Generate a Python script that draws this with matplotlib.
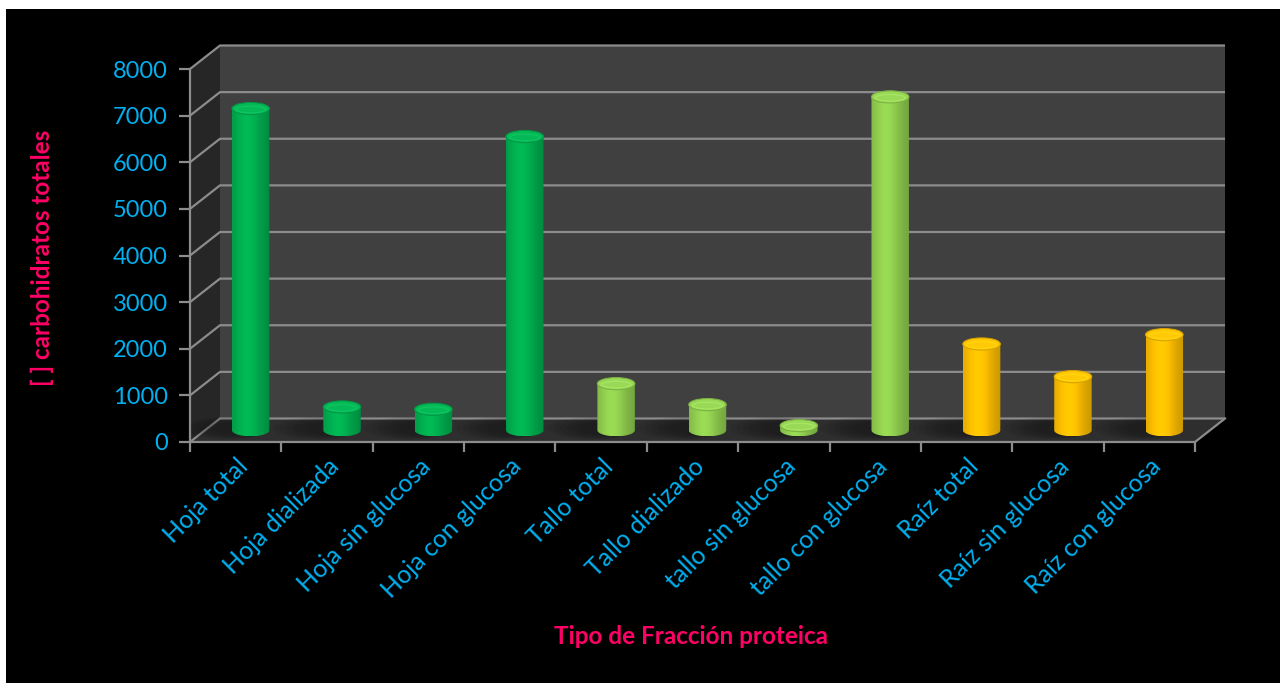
import numpy as np
import matplotlib.pyplot as plt
from matplotlib.patches import Polygon, Rectangle, Ellipse, PathPatch
from matplotlib.path import Path
import matplotlib.colors as mcolors

plt.rcParams['font.family'] = ['Lato', 'DejaVu Sans']

categorias = ['Hoja total', 'Hoja dializada', 'Hoja sin glucosa', 'Hoja con glucosa',
              'Tallo total', 'Tallo dializado', 'tallo sin glucosa', 'tallo con glucosa',
              'Raíz total', 'Raíz sin glucosa', 'Raíz con glucosa']
valores = [6900, 500, 450, 6300, 1000, 550, 100, 7150, 1850, 1150, 2050]
colores = ['#00B050'] * 4 + ['#92D050'] * 4 + ['#FFC000'] * 3
yticks = list(range(0, 8001, 1000))

AZUL = '#00B0F0'
ROSA = '#FF0066'
GRIS = '#8c8c8c'

W, H = 1280, 686
fig = plt.figure(figsize=(W / 100, H / 100), dpi=100, facecolor='white')
fig.add_artist(Rectangle((6 / W, 3 / H), (W - 6) / W, (H - 12) / H,
                         transform=fig.transFigure, fc='black', ec='none', zorder=-10))

ax = fig.add_axes([190 / W, (H - 442) / H, 1005 / W, 373 / H])
ax.patch.set_visible(False)
n = len(categorias)
ymax = yticks[-1]

# profundidad de la caja 3D en unidades de datos
dx = 30 / 1005 * n
dy = 23.5 / 373 * ymax

# paredes y piso
ax.add_patch(Polygon([(0, 0), (0, ymax), (dx, ymax + dy), (dx, dy)],
                     fc='#262626', ec='none', clip_on=False, zorder=1))
ax.add_patch(Rectangle((dx, dy), n, ymax, fc='#404040', ec='none', clip_on=False, zorder=1))
ax.add_patch(Polygon([(0, 0), (n, 0), (n + dx, dy), (dx, dy)],
                     fc='#2e2e2e', ec='none', clip_on=False, zorder=1))

for v in yticks:
    ax.plot([0, dx, n + dx], [v, v + dy, v + dy], color=GRIS, lw=1.6,
            clip_on=False, zorder=2, solid_capstyle='butt')
ax.plot([n, n + dx], [0, dy], color=GRIS, lw=1.6, clip_on=False, zorder=2)

# cilindros
w = 0.41
eh = 260
t = np.linspace(0, 1, 120)
perfil = 0.84 + 0.22 * np.exp(-((t - 0.4) / 0.35) ** 2) - 0.06 * t ** 4

for i, (v, c) in enumerate(zip(valores, colores)):
    base = np.array(mcolors.to_rgb(c))
    xc = i + 0.5 + dx / 2
    y0 = dy / 2
    y1 = v + dy / 2

    # sombra en el piso
    for k in range(6):
        ax.add_patch(Ellipse((xc - 0.12 - 0.03 * k, y0 + 40), w * 1.4 + 0.08 * k, eh * 1.1 + 40 * k,
                             fc='black', ec='none', alpha=0.06, zorder=2))

    th = np.linspace(np.pi, 2 * np.pi, 40)
    verts = [(xc - w / 2, y1)]
    verts += list(zip(xc + w / 2 * np.cos(th), y0 + eh / 2 * np.sin(th)))
    verts += [(xc + w / 2, y1), (xc - w / 2, y1)]
    cuerpo = PathPatch(Path(verts, closed=True), fc='none', ec='none', zorder=3)
    ax.add_patch(cuerpo)

    rgb = np.clip(base[None, :] * perfil[:, None], 0, 1)
    im = ax.imshow(rgb[None, :, :], extent=[xc - w / 2, xc + w / 2, y0 - eh / 2, y1],
                   aspect='auto', interpolation='bilinear', zorder=3)
    im.set_clip_path(cuerpo)

    tapa = np.clip(base * 1.02 + 0.02, 0, 1)
    ax.add_patch(Ellipse((xc, y1), w, eh, fc=tapa, ec=np.clip(base * 0.85, 0, 1),
                         lw=0.8, zorder=4))
    ax.add_patch(Ellipse((xc, y1 - eh * 0.08), w * 0.8, eh * 0.55, fc='none',
                         ec=np.clip(base * 1.1 + 0.1, 0, 1), lw=0.8, alpha=0.4, zorder=4))

ax.set_xlim(0, n)
ax.set_ylim(0, ymax)

for s in ['top', 'right']:
    ax.spines[s].set_visible(False)
for s in ['left', 'bottom']:
    ax.spines[s].set_color(GRIS)
    ax.spines[s].set_linewidth(1.6)
    ax.spines[s].set_zorder(5)

ax.set_yticks(yticks)
ax.tick_params(axis='y', direction='out', length=8, width=1.6, color=GRIS,
               labelcolor=AZUL, labelsize=17, pad=8)
ax.set_xticks(range(n + 1))
ax.set_xticklabels([])
ax.tick_params(axis='x', which='major', direction='out', length=7, width=1.6, color=GRIS)
ax.set_xticks(np.arange(n) + 0.5, minor=True)
ax.set_xticklabels(categorias, minor=True, rotation=45, ha='right', va='top',
                   rotation_mode='anchor')
ax.tick_params(axis='x', which='minor', length=0, labelcolor=AZUL, labelsize=18, pad=9)

fig.text(691 / W, 1 - 637 / H, 'Tipo de Fracción proteica', ha='center', va='center',
         color=ROSA, fontsize=17.5, fontweight='bold')
fig.text(42 / W, 1 - 258 / H, '[ ] carbohidratos totales', ha='center', va='center',
         rotation=90, color=ROSA, fontsize=17.5, fontweight='bold')

fig.savefig('out.png', dpi=100, facecolor=fig.get_facecolor())
